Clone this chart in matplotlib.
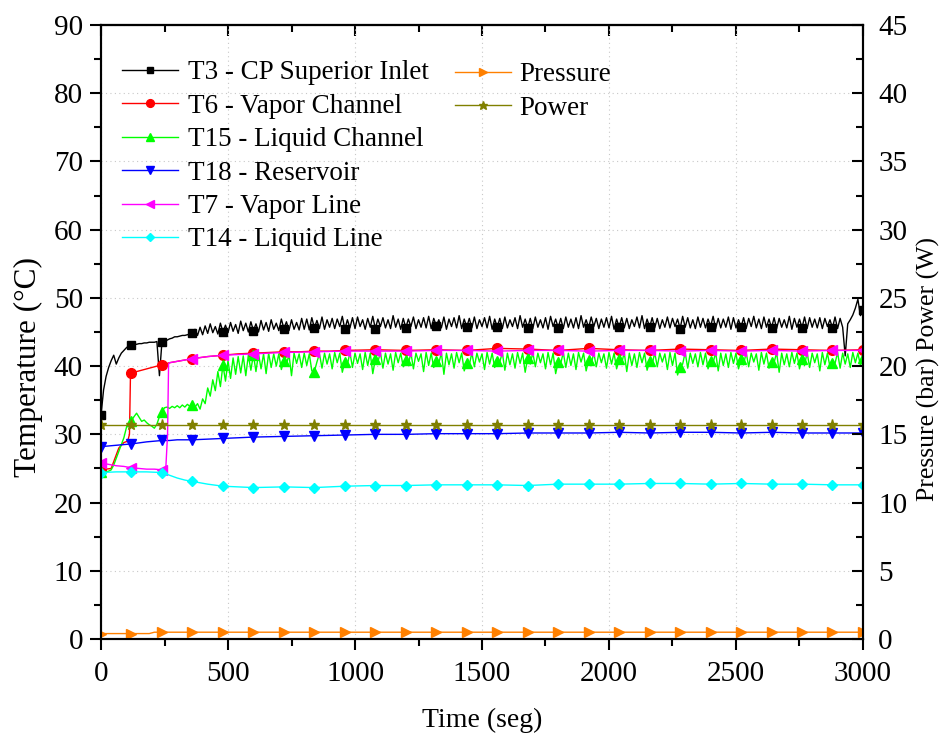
import numpy as np
import matplotlib
matplotlib.use("Agg")
import matplotlib.pyplot as plt
from matplotlib.ticker import MultipleLocator

plt.rcParams['font.family'] = ['Liberation Serif', 'DejaVu Serif']

# fast-sampled series (every 10 s)
t_fast = np.arange(0, 3001, 10)
t3 = [
    32.8, 36.5, 38.5, 39.8, 40.8, 41.6, 40.3, 41.2, 41.9, 42.3,
    42.7, 43.0, 43.1, 43.2, 43.2, 43.3, 43.3, 43.4, 43.4, 43.5,
    43.5, 43.5, 43.6, 38.6, 43.6, 43.7, 43.8, 44.0, 44.1, 44.3,
    44.3, 44.4, 44.5, 44.5, 44.6, 44.7, 44.8, 45.4, 44.5, 45.7,
    44.6, 45.9, 44.8, 46.2, 44.9, 45.8, 44.7, 46.3, 45.0, 46.0,
    44.9, 46.4, 45.1, 46.1, 44.8, 46.6, 45.2, 46.3, 45.0, 46.5,
    45.2, 46.2, 45.0, 46.7, 45.3, 46.4, 45.1, 46.8, 45.4, 46.3,
    45.2, 46.9, 45.5, 46.5, 45.2, 46.8, 45.4, 46.4, 45.3, 47.0,
    45.4, 46.9, 45.3, 47.1, 45.6, 46.7, 45.5, 47.2, 45.4, 46.8,
    45.7, 47.0, 45.5, 46.9, 45.8, 47.3, 45.4, 46.8, 45.6, 47.1,
    45.5, 47.2, 45.8, 46.8, 45.4, 47.0, 45.7, 47.3, 45.5, 46.9,
    45.8, 47.1, 45.6, 46.8, 45.5, 47.4, 45.7, 46.9, 45.4, 47.0,
    45.6, 46.9, 45.8, 47.2, 45.5, 46.8, 45.7, 47.1, 45.6, 47.3,
    45.5, 47.0, 45.9, 46.8, 45.6, 47.2, 45.4, 46.9, 45.8, 47.1,
    45.6, 47.4, 45.5, 46.9, 45.7, 47.0, 45.6, 47.2, 45.5, 46.8,
    45.8, 47.1, 45.6, 47.3, 45.4, 46.9, 45.7, 47.0, 45.5, 47.2,
    45.6, 46.8, 45.8, 47.1, 45.5, 47.4, 45.7, 46.9, 45.6, 47.0,
    45.5, 47.2, 45.7, 46.8, 45.6, 47.1, 45.4, 47.3, 45.8, 46.9,
    45.6, 47.0, 45.5, 47.2, 45.7, 46.9, 45.6, 47.1, 45.5, 47.4,
    45.7, 46.8, 45.6, 47.2, 45.8, 47.0, 45.5, 46.9, 45.7, 47.1,
    45.6, 47.3, 45.4, 46.9, 45.7, 47.1, 45.6, 47.0, 45.5, 46.8,
    45.8, 47.2, 45.6, 47.4, 45.5, 46.9, 45.7, 47.1, 45.6, 47.0,
    45.5, 46.8, 45.7, 47.2, 45.6, 47.0, 45.8, 46.9, 45.5, 47.3,
    45.7, 47.1, 45.6, 46.8, 45.5, 47.2, 45.7, 47.0, 45.6, 46.9,
    45.8, 47.3, 45.5, 47.0, 45.6, 46.9, 45.7, 47.2, 45.4, 47.1,
    45.6, 46.8, 45.7, 47.1, 45.5, 47.0, 45.8, 47.3, 45.6, 46.9,
    45.5, 47.2, 45.7, 46.9, 45.6, 47.1, 45.5, 47.0, 45.7, 46.8,
    45.6, 47.3, 45.4, 47.0, 45.7, 46.9, 45.6, 47.2, 45.5, 47.1,
    45.7, 46.9, 45.6, 47.1, 45.5, 47.0, 45.8, 46.8, 45.6, 47.2,
    45.5, 47.0, 45.7, 41.5, 46.2, 46.8, 47.5, 48.5, 49.8, 47.4,
    48.2,
]
t15 = [
    24.5, 24.5, 24.5, 24.6, 24.8, 25.5, 26.5, 27.5, 28.5, 29.5,
    31.0, 31.5, 32.0, 32.6, 33.1, 32.5, 31.9, 32.1, 31.7, 31.4,
    31.2, 30.9, 31.5, 32.6, 33.3, 33.9, 34.0, 33.8, 34.1, 33.9,
    34.2, 33.9, 34.3, 34.0, 34.4, 34.1, 34.3, 34.0, 34.5, 33.7,
    35.2, 34.5, 36.8, 35.6, 38.0, 36.4, 39.2, 37.0, 40.2, 37.8,
    40.8, 38.2, 41.2, 38.8, 41.4, 39.0, 41.5, 38.6, 41.6, 39.4,
    41.7, 39.2, 41.8, 39.6, 41.8, 38.9, 41.9, 39.8, 41.8, 40.0,
    41.8, 39.5, 40.8, 40.2, 41.7, 38.6, 41.9, 40.4, 41.8, 39.8,
    41.9, 40.1, 41.8, 39.3, 39.2, 40.6, 41.8, 39.7, 41.9, 40.3,
    41.8, 39.6, 42.0, 40.5, 41.9, 39.1, 40.6, 40.2, 42.0, 39.8,
    41.9, 40.4, 41.8, 39.5, 42.0, 40.1, 41.9, 38.9, 41.0, 40.6,
    42.0, 39.7, 41.9, 40.3, 41.8, 39.4, 42.0, 40.5, 41.9, 39.9,
    40.9, 40.2, 42.0, 39.6, 41.9, 40.7, 41.8, 39.2, 42.0, 40.1,
    41.9, 39.8, 40.7, 40.4, 42.0, 38.8, 41.9, 40.2, 41.8, 39.7,
    42.0, 40.5, 41.9, 39.3, 40.5, 40.1, 42.0, 39.9, 41.9, 40.6,
    41.8, 39.5, 42.0, 40.3, 41.9, 39.8, 40.8, 40.6, 42.0, 39.4,
    41.9, 40.2, 41.8, 39.7, 42.0, 40.4, 41.9, 39.1, 41.2, 40.3,
    42.0, 39.9, 41.9, 40.5, 41.8, 39.6, 42.0, 40.2, 41.9, 38.9,
    40.6, 40.4, 42.0, 39.8, 41.9, 40.1, 41.8, 39.5, 42.0, 40.6,
    41.9, 39.3, 40.9, 40.2, 42.0, 39.9, 41.9, 40.5, 41.8, 39.7,
    42.0, 40.3, 41.9, 39.6, 41.0, 40.4, 42.0, 39.2, 41.9, 40.1,
    41.8, 39.8, 42.0, 40.5, 41.9, 39.4, 40.7, 40.2, 42.0, 39.9,
    41.9, 40.6, 41.8, 39.5, 42.0, 40.1, 41.9, 38.7, 39.9, 40.3,
    42.0, 39.7, 41.9, 40.4, 41.8, 39.9, 42.0, 40.2, 41.9, 39.6,
    40.8, 40.5, 42.0, 39.3, 41.9, 40.1, 41.8, 39.8, 42.0, 40.4,
    41.9, 39.6, 41.0, 40.2, 42.0, 39.9, 41.9, 40.6, 41.8, 39.4,
    42.0, 40.3, 41.9, 39.7, 40.6, 40.5, 42.0, 39.1, 41.9, 40.2,
    41.8, 39.9, 42.0, 40.4, 41.9, 39.6, 41.1, 40.1, 42.0, 39.8,
    41.9, 40.5, 41.8, 39.3, 42.0, 40.2, 41.9, 39.9, 40.5, 40.4,
    42.0, 39.7, 41.9, 40.3, 41.8, 39.8, 42.0, 40.5, 41.9, 40.1,
    41.2,
]

# slower series
t6_time = [0, 20, 40, 55, 70, 90, 105, 112, 116, 120, 150, 180, 210, 240, 270,
           300, 330, 360, 420, 480, 540, 600, 660, 720, 780, 840, 900, 960,
           1080, 1200, 1320, 1440, 1560, 1680, 1800, 1920, 2040, 2160, 2280,
           2400, 2520, 2640, 2760, 2880, 3000]
t6 = [24.8, 24.9, 25.0, 26.5, 28.0, 28.8, 29.0, 30.0, 38.8, 39.0, 39.3, 39.6,
      39.9, 40.2, 40.5, 40.7, 40.9, 41.1, 41.4, 41.6, 41.8, 41.9, 42.0, 42.1,
      42.1, 42.2, 42.2, 42.3, 42.4, 42.3, 42.4, 42.3, 42.6, 42.5, 42.3, 42.6,
      42.4, 42.3, 42.5, 42.4, 42.3, 42.5, 42.4, 42.3, 42.4]

t7_time = [0, 30, 60, 90, 120, 150, 180, 210, 240, 255, 262, 266, 270, 300,
           330, 360, 420, 480, 540, 600, 660, 720, 840, 960, 1080, 1200, 1320,
           1440, 1560, 1680, 1800, 1920, 2040, 2160, 2280, 2400, 2520, 2640,
           2760, 2880, 3000]
t7 = [25.8, 25.6, 25.4, 25.3, 25.1, 25.0, 24.9, 24.9, 24.8, 25.0, 30.0, 40.3,
      40.5, 40.7, 40.9, 41.1, 41.4, 41.6, 41.7, 41.8, 41.9, 42.0, 42.1, 42.2,
      42.2, 42.2, 42.3, 42.3, 42.2, 42.3, 42.3, 42.2, 42.3, 42.3, 42.2, 42.3,
      42.2, 42.3, 42.2, 42.3, 42.3]

slow_time = [0, 60, 120, 180, 240, 270, 300, 330, 360, 420, 480, 540, 600,
             720, 840, 960, 1080, 1200, 1320, 1440, 1560, 1680, 1800, 1920,
             2040, 2160, 2280, 2400, 2520, 2640, 2760, 2880, 3000]
t18 = [28.2, 28.4, 28.6, 28.9, 29.1, 29.1, 29.2, 29.2, 29.2, 29.3, 29.4, 29.5,
       29.6, 29.7, 29.8, 29.9, 30.0, 30.0, 30.1, 30.1, 30.1, 30.2, 30.2, 30.2,
       30.3, 30.2, 30.3, 30.3, 30.2, 30.3, 30.2, 30.2, 30.2]
t14 = [24.4, 24.5, 24.5, 24.5, 24.4, 24.0, 23.6, 23.3, 23.1, 22.7, 22.4, 22.3,
       22.2, 22.3, 22.2, 22.4, 22.5, 22.5, 22.6, 22.6, 22.6, 22.5, 22.7, 22.7,
       22.7, 22.8, 22.8, 22.7, 22.8, 22.7, 22.7, 22.6, 22.6]

# right axis
p_time = [0, 120, 190, 210, 240, 360, 480, 600, 720, 840, 960, 1080, 1200,
          1320, 1440, 1560, 1680, 1800, 1920, 2040, 2160, 2280, 2400, 2520,
          2640, 2760, 2880, 3000]
pressure = [0.4, 0.4, 0.4, 0.5, 0.5, 0.5, 0.5, 0.5, 0.5, 0.5, 0.5, 0.5, 0.5,
            0.5, 0.5, 0.5, 0.5, 0.5, 0.5, 0.5, 0.5, 0.5, 0.5, 0.5, 0.5, 0.5,
            0.5, 0.5]
power = [15.7] * len(p_time)


def marks(t):
    # markers every 120 s, like the original export
    return [i for i, v in enumerate(t) if v % 120 == 0]


fig = plt.figure(figsize=(9.45, 7.33), dpi=100)
ax = fig.add_axes([0.1069, 0.1282, 0.8063, 0.8377])
ax2 = ax.twinx()

lw = 1.0
ax.plot(t_fast, t3, color='black', lw=lw, marker='s', ms=6, markevery=marks(t_fast), label='T3 - CP Superior Inlet')
ax.plot(t6_time, t6, color='red', lw=lw, marker='o', ms=7, markevery=marks(t6_time), label='T6 - Vapor Channel')
ax.plot(t_fast, t15, color='#00ff00', lw=lw, marker='^', ms=7, markevery=marks(t_fast), label='T15 - Liquid Channel')
ax.plot(slow_time, t18, color='blue', lw=lw, marker='v', ms=7, markevery=marks(slow_time), label='T18 - Reservoir')
ax.plot(t7_time, t7, color='magenta', lw=lw, marker='<', ms=7, markevery=marks(t7_time), label='T7 - Vapor Line')
ax.plot(slow_time, t14, color='cyan', lw=lw, marker='D', ms=5.5, markevery=marks(slow_time), label='T14 - Liquid Line')

ax2.plot(p_time, pressure, color='#ff8000', lw=lw, marker='>', ms=7, markevery=marks(p_time), label='Pressure')
ax2.plot(p_time, power, color='#808000', lw=lw, marker='*', ms=8, markevery=marks(p_time), label='Power')

ax.set_xlim(0, 3000)
ax.set_ylim(0, 90)
ax2.set_ylim(0, 45)

ax.xaxis.set_major_locator(MultipleLocator(500))
ax.xaxis.set_minor_locator(MultipleLocator(250))
ax.yaxis.set_major_locator(MultipleLocator(10))
ax.yaxis.set_minor_locator(MultipleLocator(5))
ax2.yaxis.set_major_locator(MultipleLocator(5))
ax2.yaxis.set_minor_locator(MultipleLocator(2.5))

ax.tick_params(which='both', direction='out', width=1.5, labelsize=21)
ax.tick_params(axis='x', which='major', length=8, pad=8)
ax.tick_params(axis='y', which='major', length=8, pad=5)
ax.tick_params(which='minor', length=5)
ax2.tick_params(which='both', direction='in', width=1.5, labelsize=21)
ax2.tick_params(which='major', length=8, pad=11)
ax2.tick_params(which='minor', length=5)

top = ax.secondary_xaxis('top')
top.xaxis.set_major_locator(MultipleLocator(500))
top.xaxis.set_minor_locator(MultipleLocator(250))
top.tick_params(which='both', direction='in', width=1.5, labeltop=False)
top.tick_params(which='major', length=8)
top.tick_params(which='minor', length=5)

for a in (ax, ax2, top):
    for s in a.spines.values():
        s.set_linewidth(1.5)

ax.grid(True, linestyle=(0, (1, 3)), color='#c8c8c8', lw=0.8)

ax.set_xlabel('Time (seg)', fontsize=20)
ax.set_ylabel('Temperature (°C)', fontsize=22.5)
ax2.set_ylabel('Pressure (bar) Power (W)', fontsize=18.5)
ax.xaxis.set_label_coords(0.5, -0.112)
ax.yaxis.set_label_coords(-0.076, 0.443)
ax2.yaxis.set_label_coords(1.071, 0.44)

ax.legend(loc='upper left', bbox_to_anchor=(-0.0045, 0.982), frameon=False, fontsize=19.5,
          handlelength=2.07, handletextpad=0.37, labelspacing=0.31, numpoints=1, markerscale=0.8)
ax2.legend(loc='upper left', bbox_to_anchor=(0.433, 0.979), frameon=False, fontsize=19.5,
           handlelength=2.07, handletextpad=0.3, labelspacing=0.31, numpoints=1, markerscale=0.8)

fig.savefig('out.png', dpi=100)
